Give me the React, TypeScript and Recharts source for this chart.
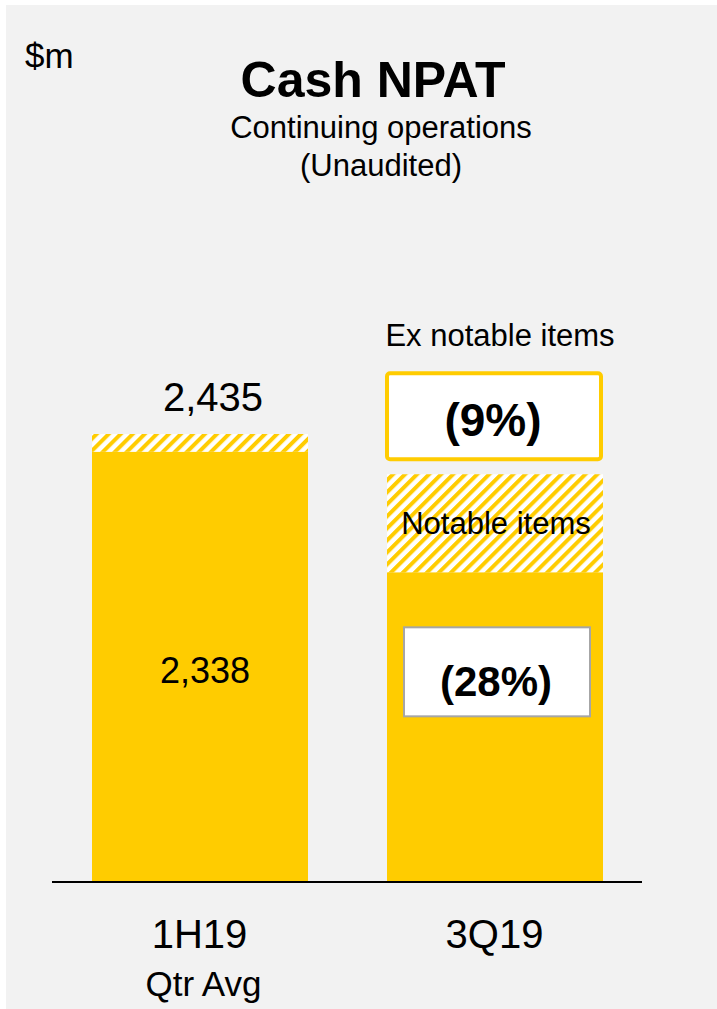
import { BarChart, Bar, XAxis, YAxis, LabelList } from 'recharts'

const categories = ['1H19', '3Q19']
const subLabels = ['Qtr Avg', '']
const cashNpat = [2338, 1683]
const notableItems = [97, 533]
const changeReported = ['', '(28%)']
const changeExNotable = ['', '(9%)']

const YELLOW = '#FFCC00'
const FONT = '"Liberation Sans", Arial, sans-serif'

const chartData = categories.map((name, i) => ({
  name,
  cash: cashNpat[i],
  notable: notableItems[i],
}))

function formatNum(v: number): string {
  return v.toLocaleString('en-US')
}

function CategoryTick(props: any) {
  const { x, y, payload, index } = props
  const i = index ?? categories.indexOf(payload.value)
  return (
    <g>
      <text x={x} y={y + 58} textAnchor="middle" fontSize={40} fill="#000" fontFamily={FONT}>
        {payload.value}
      </text>
      {subLabels[i] ? (
        <text x={x + 4} y={y + 106} textAnchor="middle" fontSize={35} fill="#000" fontFamily={FONT}>
          {subLabels[i]}
        </text>
      ) : null}
    </g>
  )
}

function CashLabel(props: any) {
  const { x, y, width, height, index } = props
  const cx = x + width / 2
  if (index === 0) {
    return (
      <text x={cx + 5} y={y + height / 2 + 16} textAnchor="middle" fontSize={36} fill="#000" fontFamily={FONT}>
        {formatNum(cashNpat[index])}
      </text>
    )
  }
  if (!changeReported[index]) return null
  return (
    <g>
      <rect x={x + 17} y={y + 55} width={width - 30} height={89} fill="#fff" stroke="#a6a6a6" strokeWidth={2} />
      <text x={cx + 1} y={y + 124} textAnchor="middle" fontSize={42} fontWeight="bold" fill="#000" fontFamily={FONT}>
        {changeReported[index]}
      </text>
    </g>
  )
}

function NotableLabel(props: any) {
  const { x, y, width, index } = props
  const cx = x + width / 2
  if (index === 0) {
    return (
      <text x={cx + 13} y={y - 23} textAnchor="middle" fontSize={40} fill="#000" fontFamily={FONT}>
        {formatNum(cashNpat[index] + notableItems[index])}
      </text>
    )
  }
  return (
    <g>
      <text x={cx + 5} y={y - 128} textAnchor="middle" fontSize={31} fill="#000" fontFamily={FONT}>
        Ex notable items
      </text>
      <rect x={x} y={y - 101} width={width - 2} height={86} rx={3} fill="#fff" stroke={YELLOW} strokeWidth={4} />
      <text x={cx - 2} y={y - 38} textAnchor="middle" fontSize={46} fontWeight="bold" fill="#000" fontFamily={FONT}>
        {changeExNotable[index]}
      </text>
      <text x={cx + 1} y={y + 60} textAnchor="middle" fontSize={31} fill="#000" fontFamily={FONT}>
        Notable items
      </text>
    </g>
  )
}

export default function App() {
  return (
    <div
      style={{
        position: 'absolute',
        left: 6,
        top: 5,
        width: 711,
        height: 1004,
        background: '#f2f2f2',
        fontFamily: FONT,
      }}
    >
      <svg width={711} height={200} style={{ position: 'absolute', left: 0, top: 0 }}>
        <text x={19} y={63} fontSize={35} fill="#000" fontFamily={FONT}>$m</text>
        <text x={367} y={92} textAnchor="middle" fontSize={50} fontWeight="bold" fill="#000" fontFamily={FONT}>
          Cash NPAT
        </text>
        <text x={375} y={133} textAnchor="middle" fontSize={31} fill="#000" fontFamily={FONT}>
          Continuing operations
        </text>
        <text x={375} y={171} textAnchor="middle" fontSize={31} fill="#000" fontFamily={FONT}>
          (Unaudited)
        </text>
      </svg>
      <div style={{ position: 'absolute', left: 0, top: 0 }}>
        <BarChart
          width={711}
          height={1004}
          data={chartData}
          margin={{ top: 325, right: 75, bottom: 7, left: 46 }}
          barSize={216}
        >
          <defs>
            <pattern id="hatch" width={8.5} height={10} patternUnits="userSpaceOnUse" patternTransform="rotate(45)">
              <rect width={8.5} height={10} fill="#fff" />
              <rect width={4} height={10} fill={YELLOW} />
            </pattern>
          </defs>
          <XAxis
            dataKey="name"
            height={120}
            axisLine={{ stroke: '#000', strokeWidth: 2 }}
            tickLine={false}
            tick={<CategoryTick />}
            interval={0}
          />
          <YAxis hide domain={[0, 3000]} />
          <Bar dataKey="cash" stackId="a" fill={YELLOW} isAnimationActive={false}>
            <LabelList dataKey="cash" content={<CashLabel />} />
          </Bar>
          <Bar dataKey="notable" stackId="a" fill="url(#hatch)" isAnimationActive={false}>
            <LabelList dataKey="notable" content={<NotableLabel />} />
          </Bar>
        </BarChart>
      </div>
    </div>
  )
}
